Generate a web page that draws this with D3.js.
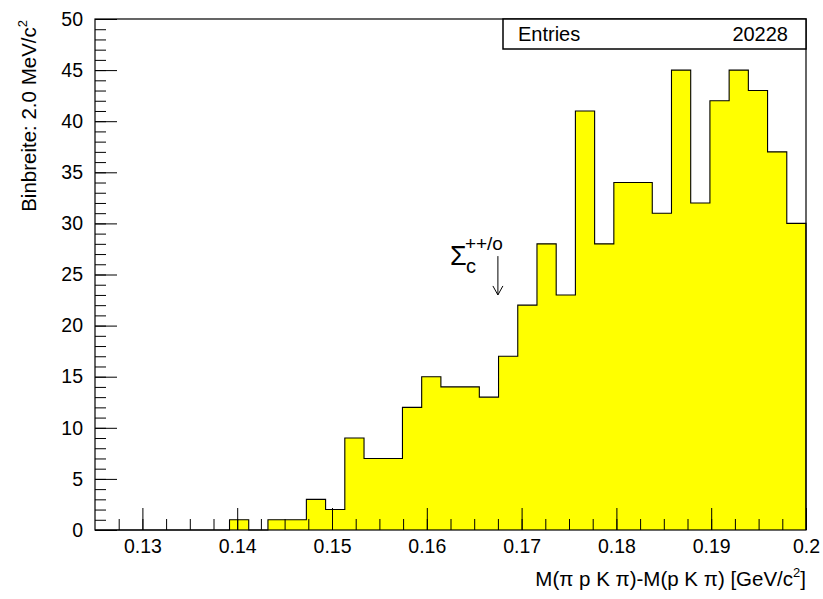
<!DOCTYPE html>
<html>
<head>
<meta charset="utf-8">
<script src="https://cdn.jsdelivr.net/npm/d3@7"></script>
<style>
  html, body { margin: 0; padding: 0; background: #fff; }
  svg { display: block; }
  text { font-family: "Liberation Sans", Arial, Helvetica, sans-serif; fill: #000; }
</style>
</head>
<body>
<svg id="chart" width="823" height="599"></svg>
<script>
// ---- data ----
const xRange = [0.125, 0.2];
const nBins = 37;
const counts = [0, 0, 0, 0, 0, 0, 0, 1, 0, 1, 1, 3, 2, 9, 7, 7, 12, 15, 14, 14,
                13, 17, 22, 28, 23, 41, 28, 34, 34, 31, 45, 32, 42, 45, 43, 37, 30];
const xMajorTicks = [0.13, 0.14, 0.15, 0.16, 0.17, 0.18, 0.19, 0.2];
const xTickLabels = ["0.13", "0.14", "0.15", "0.16", "0.17", "0.18", "0.19", "0.2"];
const yMajorTicks = [0, 5, 10, 15, 20, 25, 30, 35, 40, 45, 50];
const entries = 20228;
const arrowX = 0.1675, arrowYTop = 26.8, arrowYBottom = 23.0;

// ---- layout ----
const L = 95, R = 806, T = 19, B = 530;
const svg = d3.select("#chart");
const x = d3.scaleLinear().domain(xRange).range([L, R]);
const y = d3.scaleLinear().domain([0, 50]).range([B, T]);

const binW = (xRange[1] - xRange[0]) / nBins;
const bins = counts.map((c, i) => ({x0: xRange[0] + i * binW, x1: xRange[0] + (i + 1) * binW, c}));

// step path
const pts = [[bins[0].x0, 0]];
bins.forEach(b => { pts.push([b.x0, b.c]); pts.push([b.x1, b.c]); });
pts.push([bins[bins.length - 1].x1, 0]);
const line = d3.line().x(d => x(d[0])).y(d => y(d[1]));

svg.append("path").attr("d", line(pts) + "Z")
  .attr("fill", "#ffff00").attr("stroke", "none");
svg.append("path").attr("d", line(pts))
  .attr("fill", "none").attr("stroke", "#000").attr("stroke-width", 1.1);

// axes
const minorX = d3.range(0, 31).map(i => 0.125 + i * 0.0025).filter(v => v > 0.1251 && v < 0.1999);
const minorY = d3.range(1, 50);

svg.append("g").attr("transform", `translate(0,${B})`)
  .call(d3.axisBottom(x).tickValues(minorX).tickFormat("").tickSizeInner(-11).tickSizeOuter(0))
  .call(g => g.select(".domain").remove())
  .call(g => g.selectAll("line").attr("stroke", "#000"));
const xa = svg.append("g").attr("transform", `translate(0,${B})`)
  .call(d3.axisBottom(x).tickValues(xMajorTicks).tickFormat((d, i) => xTickLabels[i]).tickSizeInner(-22).tickSizeOuter(0).tickPadding(9))
  .call(g => g.select(".domain").remove());
xa.selectAll("line").attr("stroke", "#000");
xa.selectAll("text").attr("font-size", 19.5).attr("fill", "#000");

svg.append("g").attr("transform", `translate(${L},0)`)
  .call(d3.axisLeft(y).tickValues(minorY).tickFormat("").tickSizeInner(-11).tickSizeOuter(0))
  .call(g => g.select(".domain").remove())
  .call(g => g.selectAll("line").attr("stroke", "#000"));
const ya = svg.append("g").attr("transform", `translate(${L},0)`)
  .call(d3.axisLeft(y).tickValues(yMajorTicks).tickSizeInner(-22).tickSizeOuter(0).tickPadding(12))
  .call(g => g.select(".domain").remove());
ya.selectAll("line").attr("stroke", "#000");
ya.selectAll("text").attr("font-size", 19.5).attr("fill", "#000");

// frame
svg.append("rect").attr("x", L).attr("y", T).attr("width", R - L).attr("height", B - T)
  .attr("fill", "none").attr("stroke", "#000").attr("stroke-width", 1.2);

// stats box
svg.append("rect").attr("x", 503).attr("y", T).attr("width", R - 503).attr("height", 30)
  .attr("fill", "#fff").attr("stroke", "#000").attr("stroke-width", 1.5);
svg.append("text").attr("x", 518).attr("y", 41).attr("font-size", 20).text("Entries");
svg.append("text").attr("x", 788).attr("y", 41).attr("font-size", 20).attr("text-anchor", "end").text(entries);

// axis titles
const xt = svg.append("text").attr("x", R).attr("y", 586).attr("font-size", 20.5).attr("text-anchor", "end");
xt.append("tspan").text("M(\u03c0 p K \u03c0)-M(p K \u03c0) [GeV/c");
xt.append("tspan").attr("font-size", 13).attr("dy", -9).text("2");
xt.append("tspan").attr("dy", 9).text("]");

const yt = svg.append("text").attr("transform", "translate(36,20) rotate(-90)").attr("font-size", 20.5).attr("text-anchor", "end");
yt.append("tspan").text("Binbreite: 2.0 MeV/c");
yt.append("tspan").attr("font-size", 13).attr("dy", -9).text("2");

// annotation
const ax = x(arrowX);
svg.append("text").attr("x", ax - 48).attr("y", 265).attr("font-size", 27).text("\u03a3");
svg.append("text").attr("x", ax - 32).attr("y", 273).attr("font-size", 20).text("c");
svg.append("text").attr("x", ax - 33).attr("y", 250).attr("font-size", 19).text("++/o");
svg.append("line").attr("x1", ax).attr("x2", ax).attr("y1", y(arrowYTop)).attr("y2", y(arrowYBottom))
  .attr("stroke", "#000").attr("stroke-width", 1);
svg.append("path")
  .attr("d", `M${ax - 5},${y(arrowYBottom) - 9}L${ax},${y(arrowYBottom)}L${ax + 5},${y(arrowYBottom) - 9}`)
  .attr("fill", "none").attr("stroke", "#000").attr("stroke-width", 1);
</script>
</body>
</html>
